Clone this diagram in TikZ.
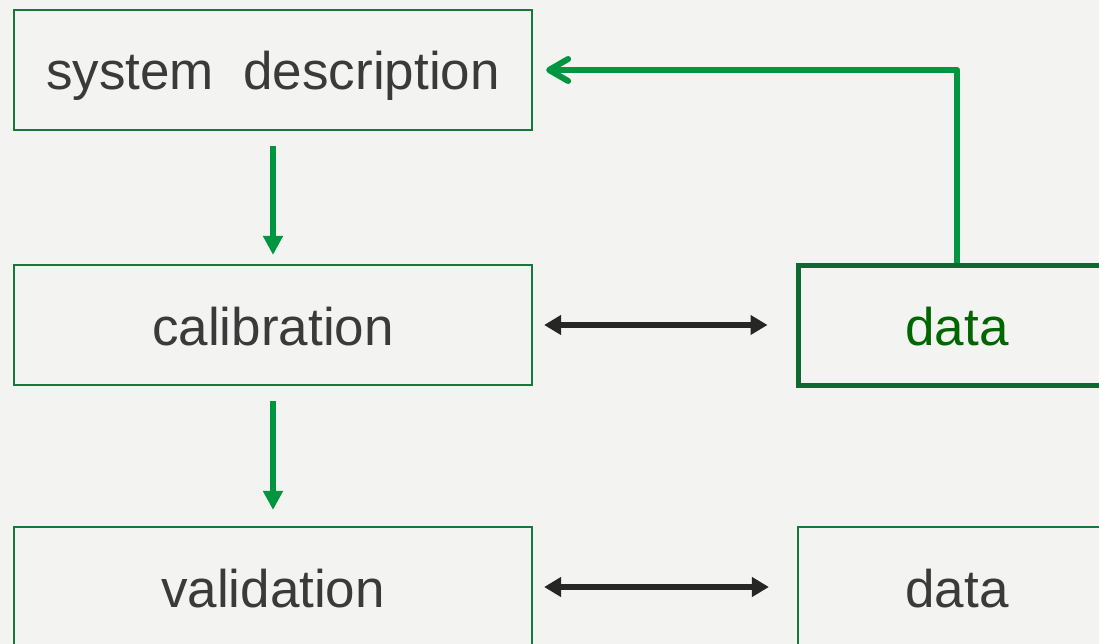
\documentclass[tikz,border=0pt]{standalone}
\usepackage{fontspec}
\setmainfont{Liberation Sans}
\usetikzlibrary{arrows.meta}
\definecolor{bgc}{RGB}{243,243,241}
\definecolor{boxgreen}{RGB}{22,120,60}
\definecolor{thickgreen}{RGB}{12,105,50}
\definecolor{arrowgreen}{RGB}{0,150,64}
\definecolor{datagreen}{RGB}{0,102,0}
\definecolor{txtgray}{RGB}{58,58,58}
\definecolor{arrowblack}{RGB}{38,38,38}
\tikzset{
  stagebox/.style={draw=boxgreen, line width=2.2pt, minimum width=518pt, minimum height=120pt,
    inner sep=0pt, text height=40pt, text depth=0pt, text=txtgray,
    font=\fontsize{53}{60}\selectfont},
  databox/.style={stagebox, minimum width=318pt},
  activedata/.style={databox, draw=thickgreen, line width=5pt, text=datagreen},
  downarrow/.style={draw=arrowgreen, line width=6pt, -{Triangle[length=19pt,width=19pt]}},
  feedback/.style={draw=arrowgreen, line width=6pt, line join=round,
    -{Straight Barb[length=19pt,width=22pt,line cap=round,line join=round]}},
  exchange/.style={draw=arrowblack, line width=6pt,
    {Triangle[length=17pt,width=19pt]}-{Triangle[length=17pt,width=19pt]}}
}
\begin{document}
\begin{tikzpicture}[x=1pt,y=-1pt]
\useasboundingbox (0,0) rectangle (1099,644);
\fill[bgc] (0,0) rectangle (1099,644);
\clip (0,0) rectangle (1099,644);
\node[stagebox] (sd) at (273,70) {system\ \ description};
\node[stagebox] (cal) at (273,325) {calibration};
\node[stagebox] (val) at (273,587) {validation};
\node[activedata] (d1) at (957,325) {data};
\node[databox] (d2) at (957,587) {data};
\draw[downarrow, shorten <=15pt, shorten >=9pt] (sd.south) -- (cal.north);
\draw[downarrow, shorten <=15pt, shorten >=16pt] (cal.south) -- (val.north);
\draw[feedback, shorten >=13pt] (d1.north) |- (sd.east);
\draw[exchange, shorten <=11pt, shorten >=28pt] (cal.east) -- (d1.west);
\draw[exchange, shorten <=11pt, shorten >=28pt] (val.east) -- (d2.west);
\end{tikzpicture}
\end{document}
